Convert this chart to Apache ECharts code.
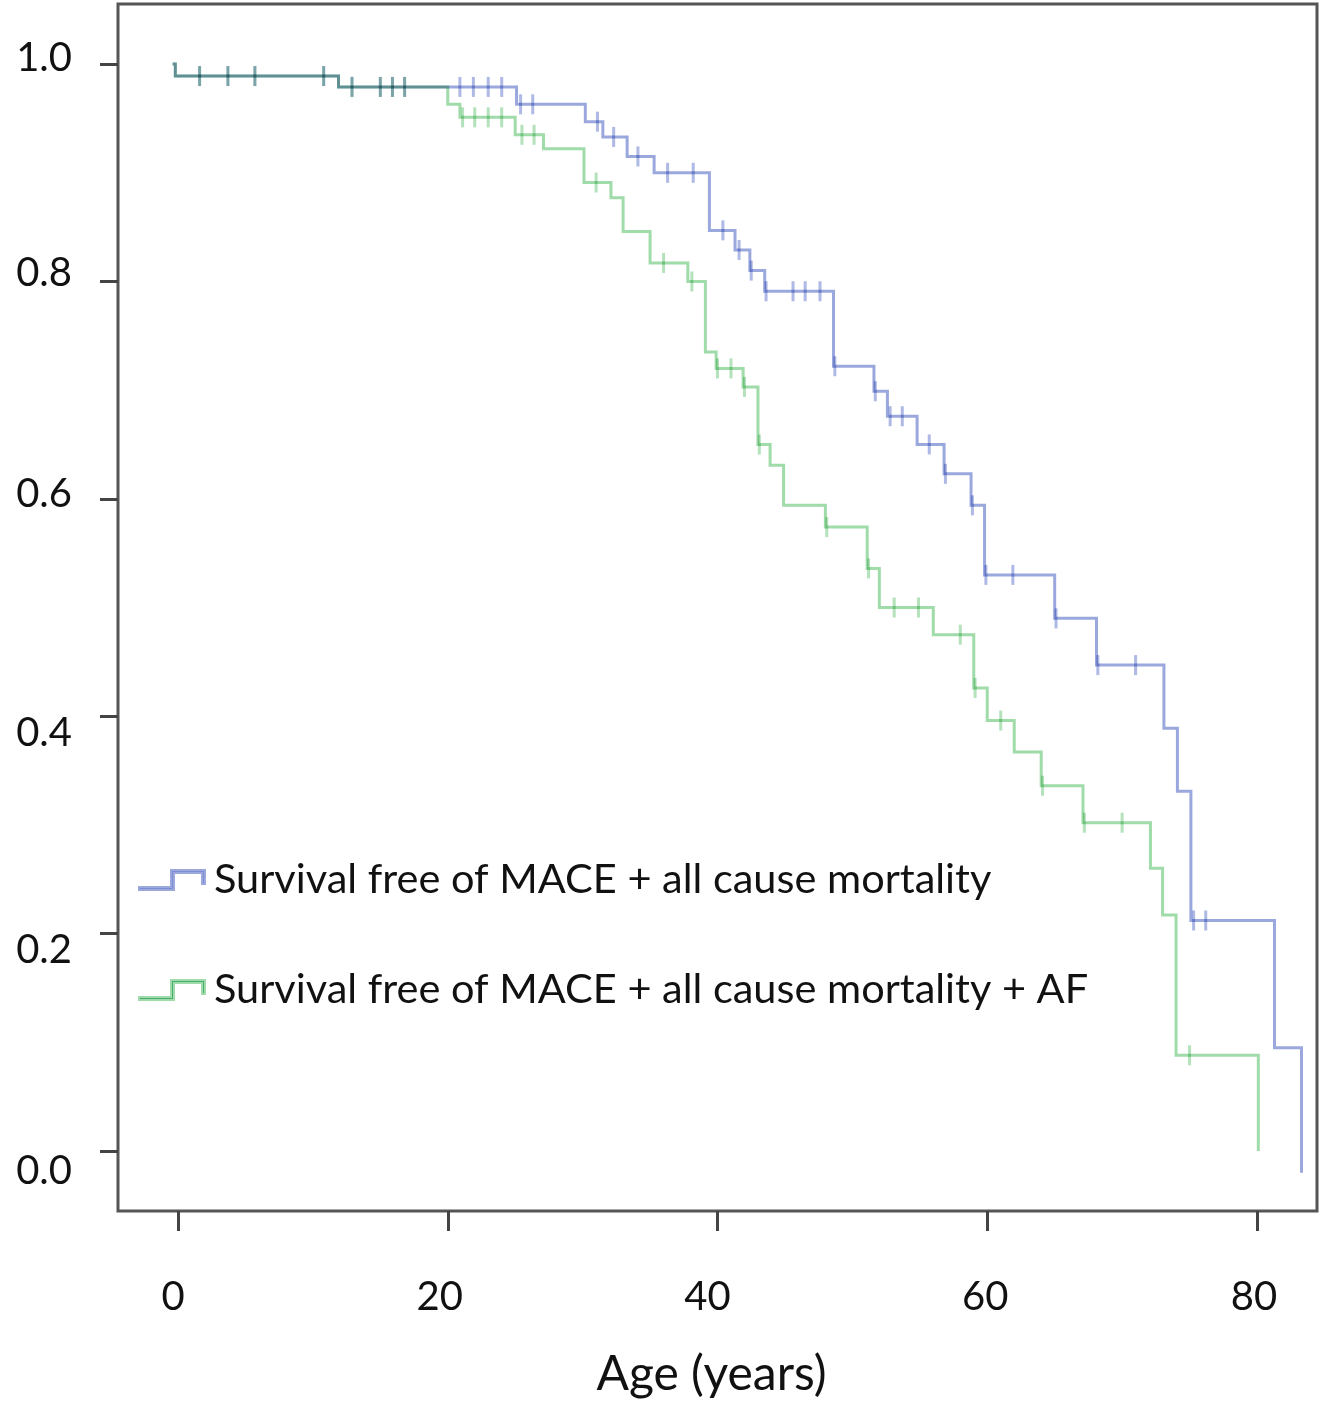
<!DOCTYPE html>
<html><head><meta charset="utf-8">
<script src="https://cdn.jsdelivr.net/npm/echarts@6/dist/echarts.min.js"></script>
<style>html,body{margin:0;padding:0;background:#fff}#c{width:1326px;height:1403px}</style>
</head><body><div id="c"></div>
<script>
const seriesNames = ['Survival free of MACE + all cause mortality', 'Survival free of MACE + all cause mortality + AF'];
const xAxisTitle = 'Age (years)';
const xTicks = [0, 20, 40, 60, 80];
const yTicks = [0, 0.2, 0.4, 0.6, 0.8, 1.0];

// [age, survival after step]
const blueSteps = [[-0.4,1.0],[-0.2,0.989],[11.9,0.979],[25.1,0.963],[30.2,0.947],[31.5,0.933],[33.3,0.915],[35.3,0.900],
  [39.4,0.847],[41.3,0.829],[42.4,0.810],[43.5,0.791],[48.6,0.722],[51.6,0.699],[52.6,0.676],[54.8,0.650],[56.8,0.623],
  [58.8,0.594],[59.8,0.530],[65.0,0.490],[68.1,0.447],[73.1,0.389],[74.1,0.331],[75.1,0.212],[81.3,0.095],[83.3,-0.02]];
const blueCensor = [[1.6,0.989],[3.7,0.989],[5.7,0.989],[10.8,0.989],[12.9,0.979],[15.0,0.979],[15.9,0.979],[16.8,0.979],
  [20.9,0.979],[21.9,0.979],[23.0,0.979],[24.0,0.979],[25.4,0.963],[26.3,0.963],[31.1,0.947],[32.3,0.933],[34.1,0.915],
  [36.3,0.900],[38.2,0.900],[40.4,0.847],[41.6,0.829],[42.5,0.810],[43.6,0.791],[45.6,0.791],[46.5,0.791],[47.6,0.791],
  [48.7,0.722],[51.7,0.699],[52.8,0.676],[53.7,0.676],[55.7,0.650],[56.9,0.623],[58.9,0.594],[59.9,0.530],[61.9,0.530],
  [65.1,0.490],[68.2,0.447],[71.0,0.447],[75.3,0.212],[76.2,0.212]];

const greenSteps = [[-0.4,1.0],[-0.2,0.989],[11.9,0.979],[20.0,0.963],[20.9,0.951],[25.0,0.935],[27.1,0.922],[30.1,0.891],
  [32.1,0.877],[33.0,0.846],[35.0,0.817],[37.8,0.800],[39.1,0.735],[39.9,0.720],[41.9,0.703],[43.0,0.650],[43.9,0.631],
  [44.9,0.594],[48.0,0.574],[51.1,0.536],[52.0,0.500],[56.0,0.475],[59.0,0.426],[60.0,0.396],[62.0,0.367],[64.0,0.336],
  [67.1,0.302],[72.1,0.260],[73.0,0.217],[74.0,0.088],[80.1,0.0]];
const greenCensor = [[1.6,0.989],[3.7,0.989],[5.7,0.989],[10.8,0.989],[12.9,0.979],[15.0,0.979],[15.9,0.979],[16.8,0.979],
  [21.1,0.951],[22.0,0.951],[23.0,0.951],[24.0,0.951],[25.5,0.935],[26.4,0.935],[31.0,0.891],[36.0,0.817],[38.1,0.800],
  [40.0,0.720],[41.0,0.720],[42.0,0.703],[43.1,0.650],[48.1,0.574],[51.2,0.536],[53.1,0.500],[54.9,0.500],[58.0,0.475],
  [59.1,0.426],[61.0,0.396],[64.1,0.336],[67.2,0.302],[70.0,0.302],[75.0,0.088]];

const blueColor = '#9aa8de';
const greenColor = '#a0dbaa';
const FONT = 'Lato';

function stepPath(steps) {
  const pts = [];
  for (let i = 0; i < steps.length; i++) {
    if (i > 0) pts.push([steps[i][0], steps[i - 1][1]]);
    pts.push(steps[i]);
  }
  return pts;
}
const stepIcon = 'path://M0,17 L32,17 L32,0 L66,0 L66,14 L63,14 L63,3 L35,3 L35,20 L0,20 Z';

// label nudges (px) to match the reference typesetting
const yShift = {'0.0': 20, '0.2': 17, '0.4': 17, '0.6': -5, '0.8': -8, '1.0': -6};
const xShift = {'0': -5, '20': -8, '40': -10, '60': -2, '80': -3};
const yRich = {}, xRich = {};
Object.keys(yShift).forEach((k, i) => {
  const d = yShift[k];
  yRich['y' + i] = {fontFamily: FONT, fontSize: 40, color: '#111', padding: d > 0 ? [2 * d, 0, 0, 0] : [0, 0, -2 * d, 0]};
});
Object.keys(xShift).forEach((k, i) => {
  const d = xShift[k];
  xRich['x' + i] = {fontFamily: FONT, fontSize: 40, color: '#111', padding: d < 0 ? [0, -2 * d, 0, 0] : [0, 0, 0, 2 * d]};
});

const chart = echarts.init(document.getElementById('c'), null, {renderer: 'canvas'});
chart.setOption({
  animation: false,
  backgroundColor: '#fff',
  grid: {left: 118, top: 4, right: 9, bottom: 192, outerBoundsMode: 'none', containLabel: false,
    show: true, borderColor: '#555', borderWidth: 3, backgroundColor: '#fff'},
  legend: {
    orient: 'vertical', left: 133, top: 853, itemWidth: 66, itemHeight: 20, itemGap: 66,
    textStyle: {fontFamily: FONT, fontSize: 41.5, color: '#111', lineHeight: 44, padding: [0, 0, 0, 4]},
    data: [
      {name: seriesNames[0], icon: stepIcon, itemStyle: {color: '#7d8dd0'}},
      {name: seriesNames[1], icon: stepIcon, itemStyle: {color: '#48ab72'}}
    ]
  },
  xAxis: {
    type: 'value', min: -4.45, max: 84.45,
    axisLine: {show: false, onZero: false}, splitLine: {show: false},
    axisTick: {show: true, customValues: xTicks, length: 20, lineStyle: {color: '#444', width: 3}},
    axisLabel: {customValues: xTicks, fontFamily: FONT, fontSize: 40, color: '#111', margin: 66, rich: xRich,
      formatter: v => { const k = String(Math.round(v)); return '{x' + Object.keys(xShift).indexOf(k) + '|' + k + '}'; }},
    name: xAxisTitle, nameLocation: 'middle', nameGap: 140,
    nameTextStyle: {fontFamily: FONT, fontSize: 48, color: '#111', padding: [0, 12, 0, 0]}
  },
  yAxis: {
    type: 'value', min: -0.0553, max: 1.0553,
    axisLine: {show: false, onZero: false}, splitLine: {show: false},
    axisTick: {show: true, customValues: yTicks, length: 18, lineStyle: {color: '#444', width: 3}},
    axisLabel: {customValues: yTicks, fontFamily: FONT, fontSize: 40, color: '#111', margin: 46, rich: yRich,
      formatter: v => { const k = v.toFixed(1); return '{y' + Object.keys(yShift).indexOf(k) + '|' + k + '}'; }}
  },
  series: [
    {name: seriesNames[0], type: 'lines', coordinateSystem: 'cartesian2d', polyline: true, blendMode: 'multiply',
      lineStyle: {color: blueColor, width: 3, opacity: 1}, silent: true,
      data: [{coords: stepPath(blueSteps)}]},
    {name: seriesNames[1], type: 'lines', coordinateSystem: 'cartesian2d', polyline: true, blendMode: 'multiply',
      lineStyle: {color: greenColor, width: 3, opacity: 1}, silent: true,
      data: [{coords: stepPath(greenSteps)}]},
    {name: seriesNames[0], type: 'scatter', symbol: 'rect', symbolSize: [3, 20], blendMode: 'multiply',
      itemStyle: {color: blueColor}, silent: true, data: blueCensor},
    {name: seriesNames[1], type: 'scatter', symbol: 'rect', symbolSize: [3, 20], blendMode: 'multiply',
      itemStyle: {color: greenColor}, silent: true, data: greenCensor}
  ]
});
</script></body></html>
